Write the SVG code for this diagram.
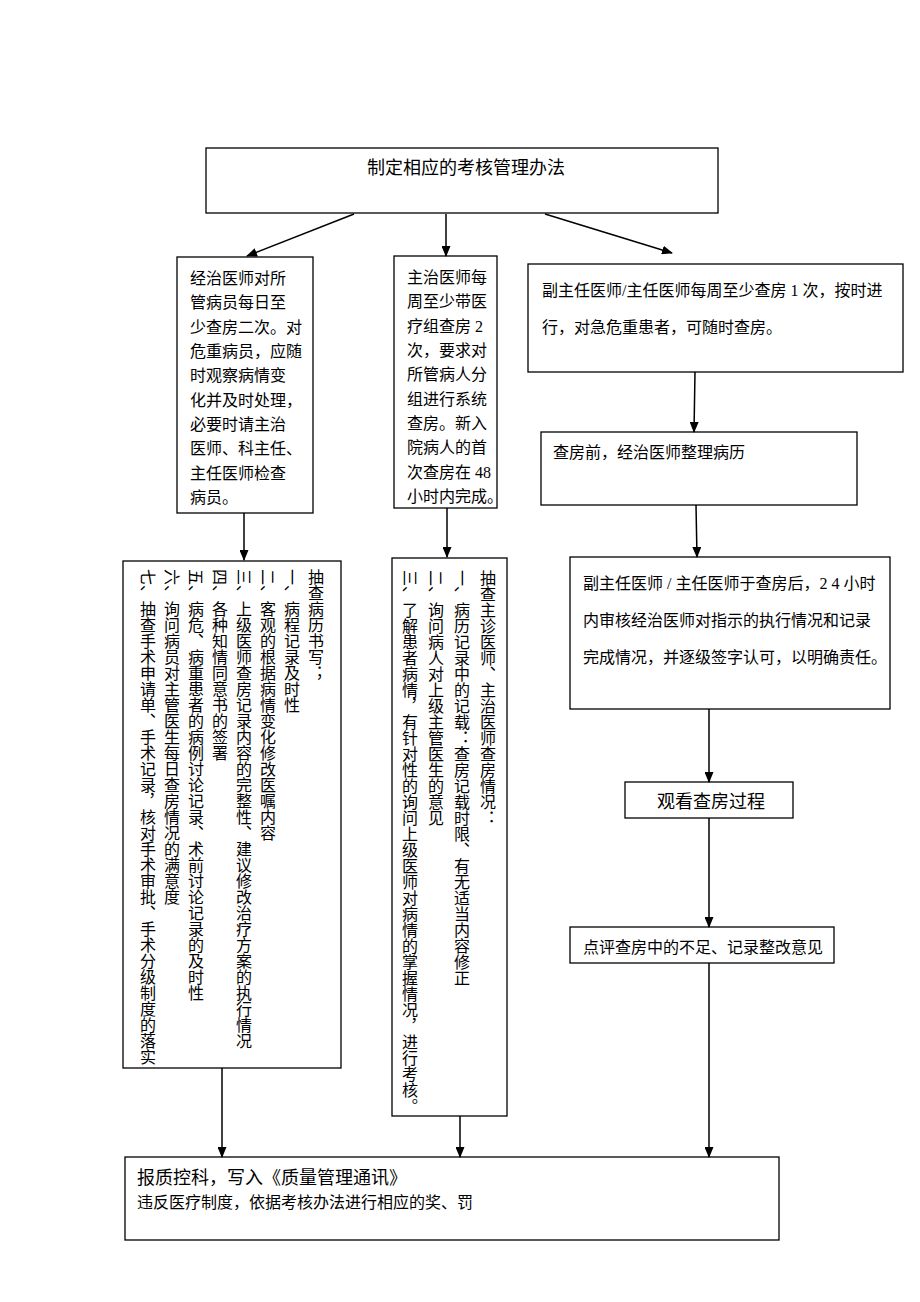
<svg xmlns="http://www.w3.org/2000/svg" width="920" height="1302" viewBox="0 0 920 1302">
<style>
.box{fill:#fff;stroke:#000;stroke-width:1.3}
.t{font-family:"Liberation Serif","Noto Sans CJK SC",serif;font-size:16px;fill:#000}
.t18{font-family:"Liberation Serif","Noto Sans CJK SC",serif;font-size:18px;fill:#000}
.v{font-family:"Noto Sans CJK SC",sans-serif;font-size:16px;fill:#000;writing-mode:vertical-rl}
.r{font-family:"Noto Sans CJK SC",sans-serif;font-size:16px;fill:#000}
.c{stroke:#000;stroke-width:1.5;fill:none;marker-end:url(#ah)}
</style>
<defs>
<marker id="ah" markerWidth="11" markerHeight="9" refX="10" refY="4.5" orient="auto" markerUnits="userSpaceOnUse">
<path d="M0,0 L11,4.5 L0,9 z" fill="#000"/>
</marker>
</defs>
<rect width="920" height="1302" fill="#fff"/>

<g id="top">
<rect class="box" x="206" y="148" width="512" height="65"/>
<text class="t18" x="367" y="174">制定相应的考核管理办法</text>
</g>

<g id="left-top">
<rect class="box" x="177" y="257" width="136" height="256"/>
<text class="t" x="190" y="284">经治医师对所</text>
<text class="t" x="190" y="308">管病员每日至</text>
<text class="t" x="190" y="333">少查房二次。对</text>
<text class="t" x="190" y="357">危重病员，应随</text>
<text class="t" x="190" y="381">时观察病情变</text>
<text class="t" x="190" y="406">化并及时处理，</text>
<text class="t" x="190" y="430">必要时请主治</text>
<text class="t" x="190" y="454">医师、科主任、</text>
<text class="t" x="190" y="479">主任医师检查</text>
<text class="t" x="190" y="503">病员。</text>
</g>

<g id="mid-top">
<rect class="box" x="394" y="256" width="103" height="252"/>
<text class="t" x="407" y="283">主治医师每</text>
<text class="t" x="407" y="307">周至少带医</text>
<text class="t" x="407" y="332">疗组查房 2</text>
<text class="t" x="407" y="356">次，要求对</text>
<text class="t" x="407" y="380">所管病人分</text>
<text class="t" x="407" y="405">组进行系统</text>
<text class="t" x="407" y="429">查房。新入</text>
<text class="t" x="407" y="453">院病人的首</text>
<text class="t" x="407" y="478">次查房在 48</text>
<text class="t" x="407" y="502">小时内完成。</text>
</g>

<g id="right-1">
<rect class="box" x="528" y="264" width="375" height="108"/>
<text class="t" x="542" y="296">副主任医师/主任医师每周至少查房 1 次，按时进</text>
<text class="t" x="542" y="333">行，对急危重患者，可随时查房。</text>
</g>

<g id="right-2">
<rect class="box" x="541" y="432" width="316" height="73"/>
<text class="t" x="553" y="458">查房前，经治医师整理病历</text>
</g>

<g id="right-3">
<rect class="box" x="570" y="557" width="320" height="152"/>
<text class="t" x="583" y="589">副主任医师 / 主任医师于查房后，2 4 小时</text>
<text class="t" x="583" y="626">内审核经治医师对指示的执行情况和记录</text>
<text class="t" x="583" y="663">完成情况，并逐级签字认可，以明确责任。</text>
</g>

<g id="right-4">
<rect class="box" x="625" y="782" width="168" height="36"/>
<text class="t18" x="657" y="808">观看查房过程</text>
</g>

<g id="right-5">
<rect class="box" x="570" y="927" width="264" height="36"/>
<text class="t" x="583" y="953">点评查房中的不足、记录整改意见</text>
</g>

<g id="left-bottom">
<rect class="box" x="123" y="561" width="218" height="507"/>
<text class="v" x="316" y="569">抽查病历书写；</text>
<text class="r" transform="translate(285.9,569) rotate(90)">一、</text>
<text class="v" x="292" y="601">病程记录及时性</text>
<text class="r" transform="translate(261.9,569) rotate(90)">二、</text>
<text class="v" x="268" y="601">客观的根据病情变化修改医嘱内容</text>
<text class="r" transform="translate(237.9,569) rotate(90)">三、</text>
<text class="v" x="244" y="601">上级医师查房记录内容的完整性、建议修改治疗方案的执行情况</text>
<text class="r" transform="translate(213.9,569) rotate(90)">四、</text>
<text class="v" x="220" y="601">各种知情同意书的签署</text>
<text class="r" transform="translate(189.9,569) rotate(90)">五、</text>
<text class="v" x="196" y="601">病危、病重患者的病例讨论记录、术前讨论记录的及时性</text>
<text class="r" transform="translate(165.9,569) rotate(90)">六、</text>
<text class="v" x="172" y="601">询问病员对主管医生每日查房情况的满意度</text>
<text class="r" transform="translate(141.9,569) rotate(90)">七、</text>
<text class="v" x="148" y="601">抽查手术申请单、手术记录，核对手术审批、手术分级制度的落实</text>
</g>

<g id="mid-bottom">
<rect class="box" x="392" y="558" width="115" height="558"/>
<text class="v" x="488" y="570">抽查主诊医师、主治医师查房情况：</text>
<text class="r" transform="translate(455.9,570) rotate(90)">一、</text>
<text class="v" x="462" y="602">病历记录中的记载：查房记载时限、有无适当内容修正</text>
<text class="r" transform="translate(429.9,570) rotate(90)">二、</text>
<text class="v" x="436" y="602">询问病人对上级主管医生的意见</text>
<text class="r" transform="translate(403.9,570) rotate(90)">三、</text>
<text class="v" x="410" y="602">了解患者病情，有针对性的询问上级医师对病情的掌握情况，进行考核。</text>
</g>

<g id="bottom">
<rect class="box" x="125" y="1157" width="654" height="83"/>
<text class="t18" x="137" y="1184">报质控科，写入《质量管理通讯》</text>
<text class="t" x="137" y="1208">违反医疗制度，依据考核办法进行相应的奖、罚</text>
</g>

<g id="connectors">
<line class="c" x1="354" y1="214" x2="247" y2="256"/>
<line class="c" x1="446" y1="214" x2="446" y2="256"/>
<line class="c" x1="545" y1="214" x2="672" y2="253"/>
<line class="c" x1="244" y1="513" x2="244" y2="560"/>
<line class="c" x1="447" y1="508" x2="447" y2="557"/>
<line class="c" x1="695" y1="372" x2="694" y2="432"/>
<line class="c" x1="696" y1="505" x2="697" y2="557"/>
<line class="c" x1="709" y1="709" x2="709" y2="782"/>
<line class="c" x1="709" y1="818" x2="709" y2="927"/>
<line class="c" x1="222" y1="1068" x2="222" y2="1157"/>
<line class="c" x1="460" y1="1116" x2="460" y2="1157"/>
<line class="c" x1="709" y1="963" x2="709" y2="1157"/>
</g>
</svg>
